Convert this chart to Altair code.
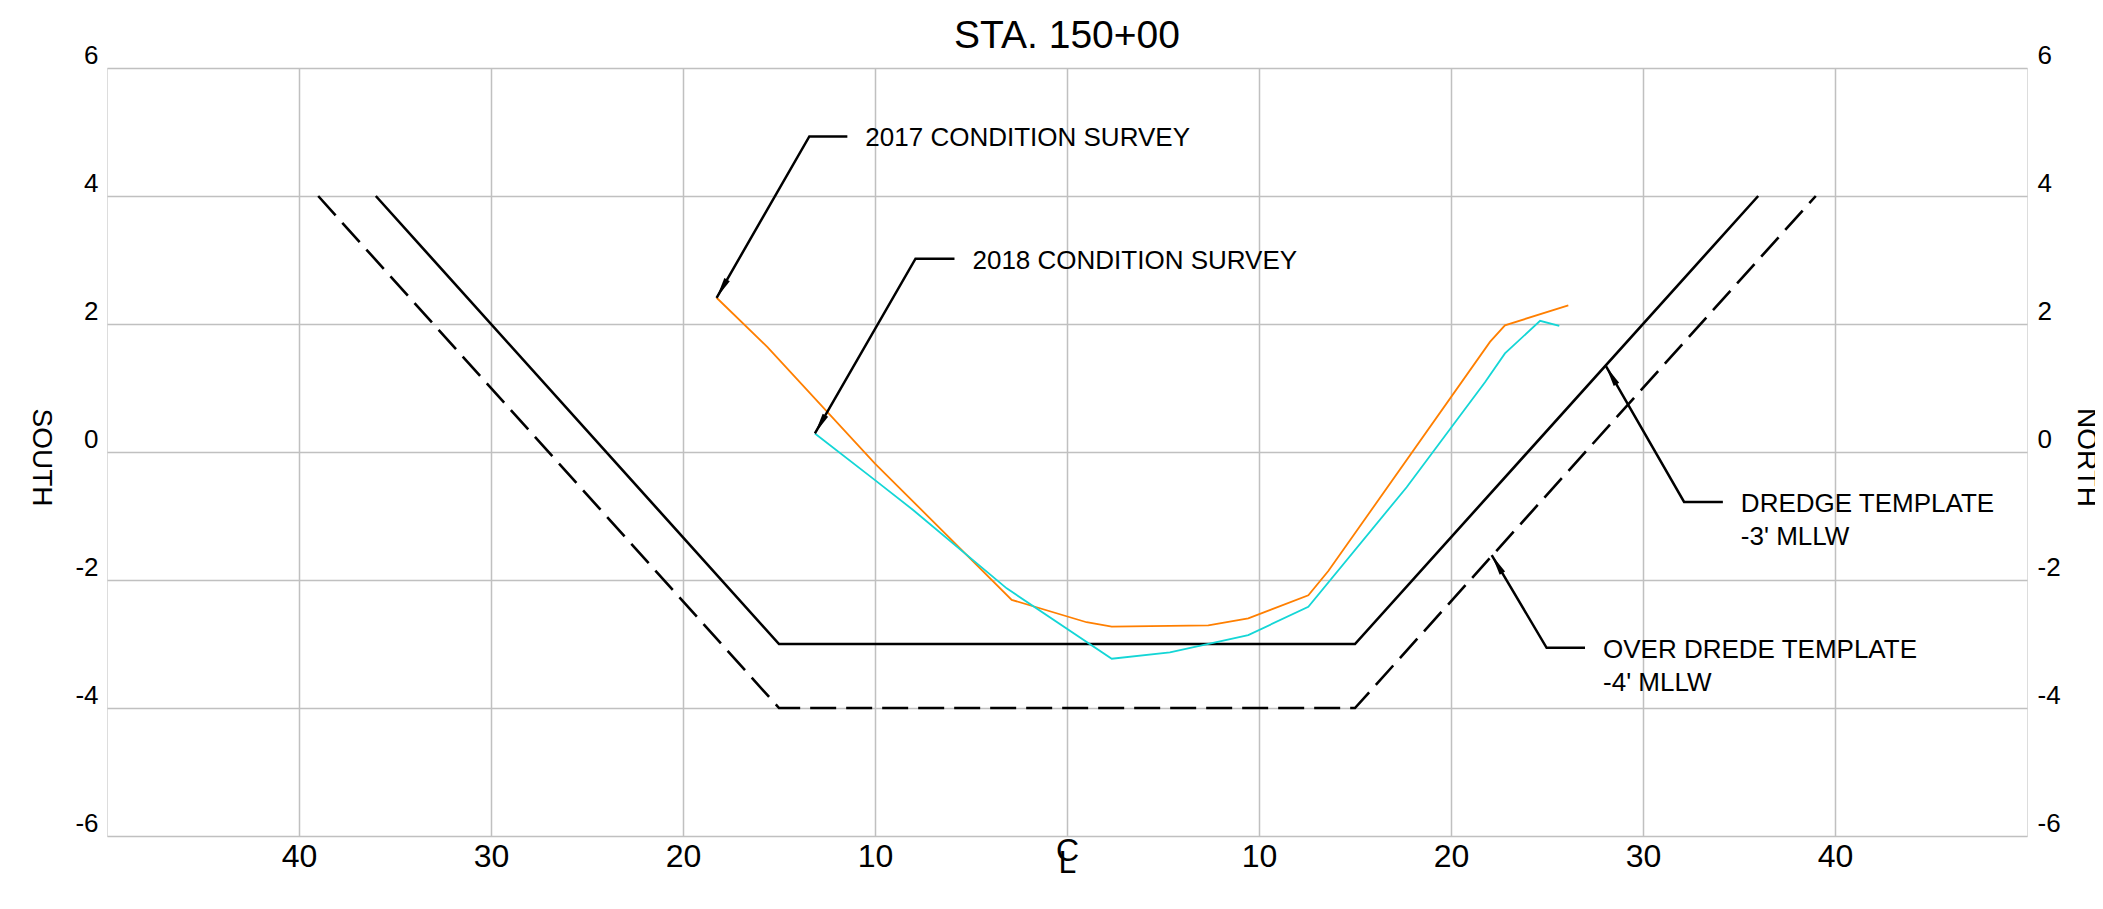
import math
import altair as alt
import pandas as pd

# ---------------- data ----------------
dredge_x = [-36, -15, 15, 36]
dredge_y = [4, -3, -3, 4]
over_x = [-39, -15, 15, 39]
over_y = [4, -4, -4, 4]

s2017_x = [-18.25, -15.6, -10.0, -2.88, 1.02, 2.33, 7.36, 9.44, 12.57, 13.61, 22.03, 22.81, 26.11]
s2017_y = [2.41, 1.64, -0.18, -2.31, -2.66, -2.73, -2.71, -2.60, -2.24, -1.86, 1.72, 1.98, 2.29]
s2018_x = [-13.13, -10.0, -8.0, -3.14, 2.33, 5.36, 9.44, 12.57, 17.69, 21.77, 22.81, 24.64, 25.64]
s2018_y = [0.29, -0.44, -0.91, -2.13, -3.23, -3.13, -2.86, -2.42, -0.55, 1.09, 1.54, 2.05, 1.97]

ann_text = [["2017 CONDITION SURVEY"], ["2018 CONDITION SURVEY"],
            ["DREDGE TEMPLATE", "-3' MLLW"], ["OVER DREDE TEMPLATE", "-4' MLLW"]]
ann_tip_x = [-18.25, -13.13, 28.07, 22.12]
ann_tip_y = [2.41, 0.29, 1.34, -1.61]
ann_elbow_x = [-13.42, -7.89, 32.14, 24.98]
ann_elbow_y = [4.93, 3.02, -0.78, -3.06]
ann_end_x = [-11.44, -5.86, 34.16, 26.98]

x_ticks = [-40, -30, -20, -10, 0, 10, 20, 30, 40]
y_ticks = [-6, -4, -2, 0, 2, 4, 6]
x_domain = [-50, 50]
y_domain = [-6, 6]

chart_title = "STA. 150+00"
left_title = "SOUTH"
right_title = "NORTH"

# ---------------- layout / style ----------------
W, H = 1920, 768
FONT = "Liberation Sans"
GRID = "#c0c0c0"
ORANGE = "#ff7f00"
CYAN = "#14d6d6"

# ---------------- frames ----------------
dredge_df = pd.DataFrame({"x": dredge_x, "y": dredge_y})
over_df = pd.DataFrame({"x": over_x, "y": over_y})
s17_df = pd.DataFrame({"x": s2017_x, "y": s2017_y})
s18_df = pd.DataFrame({"x": s2018_x, "y": s2018_y})

lead_rows = []
for i in range(len(ann_text)):
    lead_rows.append({"id": i, "o": 0, "x": ann_tip_x[i], "y": ann_tip_y[i]})
    lead_rows.append({"id": i, "o": 1, "x": ann_elbow_x[i], "y": ann_elbow_y[i]})
    lead_rows.append({"id": i, "o": 2, "x": ann_end_x[i], "y": ann_elbow_y[i]})
lead_df = pd.DataFrame(lead_rows)

sx = W / (x_domain[1] - x_domain[0])
sy = H / (y_domain[1] - y_domain[0])
arrow_rows = []
for i in range(len(ann_text)):
    dxp = (ann_tip_x[i] - ann_elbow_x[i]) * sx
    dyp = -(ann_tip_y[i] - ann_elbow_y[i]) * sy
    ang = (math.degrees(math.atan2(dxp, -dyp)) + 360) % 360
    arrow_rows.append({"x": ann_tip_x[i], "y": ann_tip_y[i], "angle": ang})
arrow_df = pd.DataFrame(arrow_rows)

text_df = pd.DataFrame({"x": ann_end_x, "y": ann_elbow_y, "t": ann_text})

# ---------------- scales / axes ----------------
xs = alt.Scale(domain=x_domain, nice=False, zero=False)
ys = alt.Scale(domain=y_domain, nice=False, zero=False)

x_axis = alt.Axis(
    values=x_ticks,
    labelExpr="datum.value == 0 ? ['C', 'L'] : '' + abs(datum.value)",
    grid=True, gridColor=GRID, gridWidth=1.5,
    ticks=False, tickSize=0, domain=False,
    labelFont=FONT, labelFontSize=32, labelColor="black",
    labelBaseline="middle", labelLineHeight=12,
    labelPadding={"condition": {"test": "datum.value == 0", "value": 14}, "value": 20},
    labelFlush=False, labelOverlap=False, title=None,
)
y_left = alt.Axis(
    values=y_ticks, labelExpr="'' + datum.value",
    grid=True, gridColor=GRID, gridWidth=1.5,
    ticks=False, tickSize=0, domain=False,
    labelFont=FONT, labelFontSize=26, labelColor="black",
    labelBaseline="bottom", labelAlign="right", labelPadding=9,
    labelFlush=False, labelOverlap=False,
    title=left_title, titleFont=FONT, titleFontSize=28, titleFontWeight="normal",
    titleColor="black", titleAngle=90, titleAlign="center", titleBaseline="middle",
    titleX=-67, titleY=389,
)
y_right = alt.Axis(
    orient="right", values=y_ticks, labelExpr="'' + datum.value", grid=False,
    ticks=False, tickSize=0, domain=False,
    labelFont=FONT, labelFontSize=26, labelColor="black",
    labelBaseline="bottom", labelAlign="left", labelPadding=10,
    labelFlush=False, labelOverlap=False,
    title=right_title, titleFont=FONT, titleFontSize=28, titleFontWeight="normal",
    titleColor="black", titleAngle=90, titleAlign="center", titleBaseline="middle",
    titleX=58, titleY=389,
)

X = lambda: alt.X("x:Q", scale=xs, axis=x_axis)

dredge = alt.Chart(dredge_df).mark_line(color="black", strokeWidth=2.6).encode(
    x=X(), y=alt.Y("y:Q", scale=ys, axis=y_left))
over = alt.Chart(over_df).mark_line(color="black", strokeWidth=2.6, strokeDash=[26, 10]).encode(
    x=X(), y=alt.Y("y:Q", scale=ys, axis=y_right))
s17 = alt.Chart(s17_df).mark_line(color=ORANGE, strokeWidth=1.8).encode(
    x=X(), y=alt.Y("y:Q", scale=ys, axis=None))
s18 = alt.Chart(s18_df).mark_line(color=CYAN, strokeWidth=1.8).encode(
    x=X(), y=alt.Y("y:Q", scale=ys, axis=None))
leads = alt.Chart(lead_df).mark_line(color="black", strokeWidth=2.5).encode(
    x=X(), y=alt.Y("y:Q", scale=ys, axis=None), detail="id:N", order="o:Q")
arrows = alt.Chart(arrow_df).mark_point(
    shape="M0,0L0.3,2L-0.3,2Z", filled=True, color="black", size=441, opacity=1, strokeWidth=0
).encode(x=X(), y=alt.Y("y:Q", scale=ys, axis=None), angle=alt.Angle("angle:Q", scale=None))
texts = alt.Chart(text_df).mark_text(
    align="left", baseline="alphabetic", dx=18, dy=10, font=FONT, fontSize=26,
    color="black", lineHeight=33
).encode(x=X(), y=alt.Y("y:Q", scale=ys, axis=None), text="t")

chart = alt.layer(dredge, over, s17, s18, leads, arrows, texts).resolve_axis(
    y="independent"
).properties(
    width=W, height=H,
    title=alt.TitleParams(chart_title, font=FONT, fontSize=39, fontWeight="normal",
                          color="black", anchor="middle", baseline="alphabetic", offset=-45),
    autosize=alt.AutoSizeParams(type="none"),
    padding={"left": 99, "top": 60, "right": 68, "bottom": 60},
).configure_view(stroke=GRID, strokeWidth=2).configure(background="white")

chart.save("out.html", embed_options={"renderer": "svg", "actions": False})
